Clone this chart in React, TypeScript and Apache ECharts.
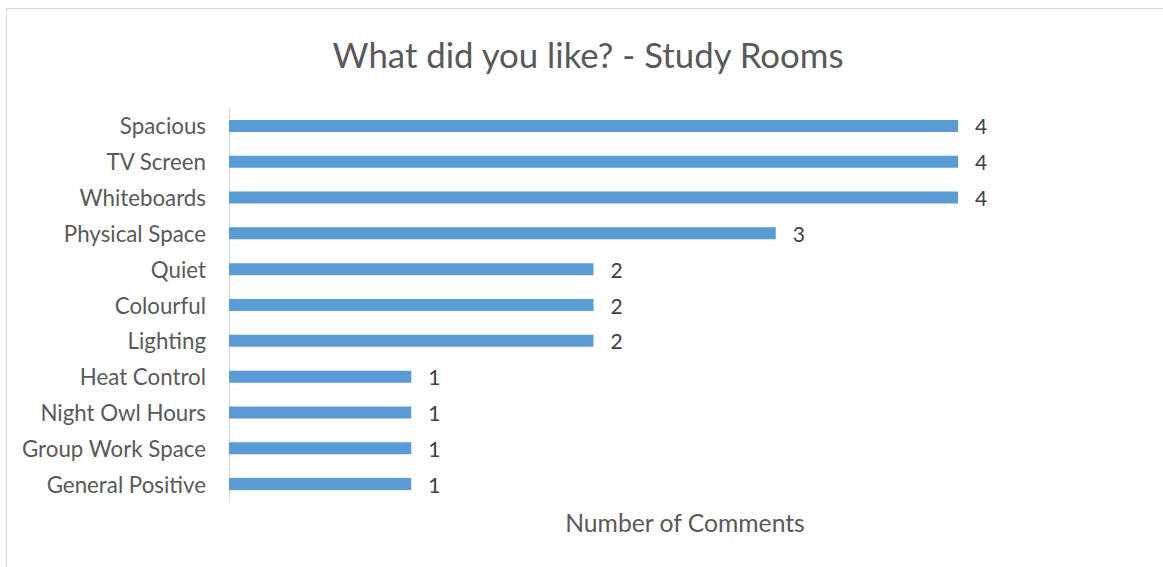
import React, { useEffect, useRef } from "react";
import * as echarts from "echarts";

const categories = [
  "Spacious",
  "TV Screen",
  "Whiteboards",
  "Physical Space",
  "Quiet",
  "Colourful",
  "Lighting",
  "Heat Control",
  "Night Owl Hours",
  "Group Work Space",
  "General Positive",
];
const values = [4, 4, 4, 3, 2, 2, 2, 1, 1, 1, 1];
const titleText = "What did you like? - Study Rooms";
const axisName = "Number of Comments";

const FONT = "Lato, 'Noto Sans', sans-serif";

export default function App() {
  const ref = useRef<HTMLDivElement>(null);
  useEffect(() => {
    if (!ref.current) return;
    const chart = echarts.init(ref.current, null, { renderer: "svg" });
    chart.setOption({
      animation: false,
      backgroundColor: "#ffffff",
      grid: { left: 229, right: 1163 - 958, top: 108, bottom: 567 - 502, containLabel: false },
      xAxis: {
        type: "value",
        min: 0,
        max: 4,
        axisLine: { show: false },
        axisTick: { show: false },
        axisLabel: { show: false },
        splitLine: { show: false },
      },
      yAxis: {
        type: "category",
        data: categories,
        inverse: true,
        axisLine: { show: true, lineStyle: { color: "#d9d9d9", width: 1 } },
        axisTick: { show: false },
        axisLabel: { fontFamily: FONT, fontSize: 22.3, color: "#595959", margin: 23 },
      },
      series: [
        {
          type: "bar",
          data: values,
          barWidth: 12,
          itemStyle: { color: "#5b9bd5" },
          label: {
            show: true,
            position: "right",
            distance: 17,
            fontFamily: FONT,
            fontSize: 21,
            color: "#404040",
          },
        },
      ],
      graphic: [
        {
          type: "rect",
          shape: { x: 6.5, y: 8.5, width: 1300, height: 700 },
          style: { fill: "none", stroke: "#d9d9d9", lineWidth: 1 },
          silent: true,
        },
        {
          type: "text",
          x: 588,
          y: 54,
          style: {
            text: titleText,
            fontFamily: FONT,
            fontSize: 34.8,
            fill: "#595959",
            textAlign: "center",
            textVerticalAlign: "middle",
          },
        },
        {
          type: "text",
          x: 685,
          y: 522,
          style: {
            text: axisName,
            fontFamily: FONT,
            fontSize: 24.7,
            fill: "#595959",
            textAlign: "center",
            textVerticalAlign: "middle",
          },
        },
      ],
    });
    return () => chart.dispose();
  }, []);
  return (
    <div
      ref={ref}
      style={{ position: "fixed", left: 0, top: 0, width: 1163, height: 567 }}
    />
  );
}
